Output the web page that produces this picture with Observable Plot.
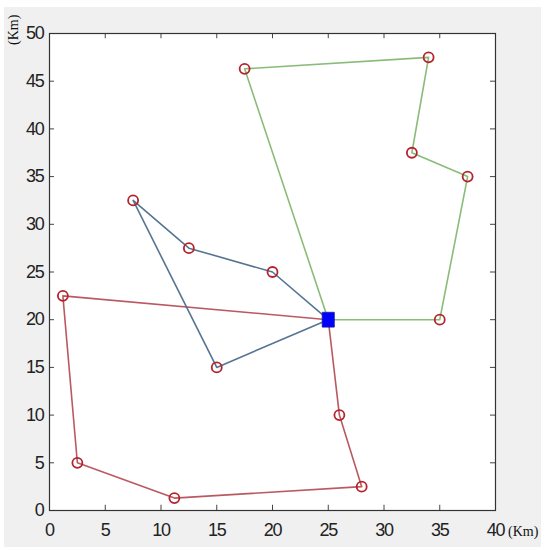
<!DOCTYPE html>
<html>
<head>
<meta charset="utf-8">
<script src="https://cdn.jsdelivr.net/npm/d3@7"></script>
<script src="https://cdn.jsdelivr.net/npm/@observablehq/plot@0.6"></script>
<style>
  html, body { margin: 0; padding: 0; background: #ffffff; }
  #wrap { position: absolute; left: 4px; top: 7px; width: 537px; height: 540px; background: #f0f0f0; }
  #wrap svg { display: block; background: transparent; }
  .unit { position: absolute; left: 0; top: 0; font-family: "Liberation Serif", "DejaVu Serif", serif; font-size: 14px; line-height: 15px; color: #111; white-space: nowrap; }
</style>
</head>
<body>
<div id="wrap"></div>
<script>
// Route coordinates (km); each route starts and ends at the depot
const depotX = [25];
const depotY = [20];
const redX = [25, 1.2, 2.5, 11.2, 28.0, 26.0, 25];
const redY = [20, 22.5, 5.0, 1.3, 2.5, 10.0, 20];
const blueX = [25, 20.0, 12.5, 7.5, 15.0, 25];
const blueY = [20, 25.0, 27.5, 32.5, 15.0, 20];
const greenX = [25, 17.5, 34.0, 32.5, 37.5, 35.0, 25];
const greenY = [20, 46.3, 47.5, 37.5, 35.0, 20.0, 20];
const xTicks = [0, 5, 10, 15, 20, 25, 30, 35, 40];
const yTicks = [0, 5, 10, 15, 20, 25, 30, 35, 40, 45, 50];

const routes = [
  {name: "red", xs: redX, ys: redY, color: "#b6505a"},
  {name: "blue", xs: blueX, ys: blueY, color: "#4d6d8c"},
  {name: "green", xs: greenX, ys: greenY, color: "#84b872"}
];
const lineData = routes.flatMap(r => r.xs.map((x, i) => ({route: r.name, color: r.color, x, y: r.ys[i]})));
const customers = routes.flatMap(r => r.xs.slice(1, -1).map((x, i) => ({x, y: r.ys[i + 1]})));
const depot = depotX.map((x, i) => ({x, y: depotY[i]}));

// tall rectangle symbol for the depot marker
const tallSquare = {
  draw(context, size) {
    const w = Math.sqrt(size) * 0.9, h = Math.sqrt(size) * 1.1;
    context.rect(-w / 2, -h / 2, w, h);
  }
};

const W = 537, H = 540;
const chart = Plot.plot({
  width: W, height: H,
  marginLeft: 45, marginRight: 46, marginTop: 26, marginBottom: 37,
  style: {fontFamily: "'Liberation Sans', Arial, sans-serif", fontSize: "18px", color: "#222", background: "transparent"},
  x: {domain: [0, 40], ticks: xTicks},
  y: {domain: [0, 50], ticks: yTicks},
  marks: [
    Plot.frame({fill: "white", stroke: null}),
    Plot.axisX({ticks: xTicks, tickSize: 0, tickPadding: 13, label: null, fontSize: 18}),
    Plot.axisY({ticks: yTicks, tickSize: 0, tickPadding: 6, label: null, fontSize: 18}),
    Plot.ruleX(xTicks.slice(1, -1), {x: d => d, y1: 0, y2: 0.55, stroke: "#444", strokeWidth: 1}),
    Plot.ruleX(xTicks.slice(1, -1), {x: d => d, y1: 50, y2: 49.45, stroke: "#444", strokeWidth: 1}),
    Plot.ruleY(yTicks.slice(1, -1), {y: d => d, x1: 0, x2: 0.45, stroke: "#444", strokeWidth: 1}),
    Plot.ruleY(yTicks.slice(1, -1), {y: d => d, x1: 40, x2: 39.55, stroke: "#444", strokeWidth: 1}),
    Plot.line(lineData, {x: "x", y: "y", z: "route", stroke: "color", strokeWidth: 1.6, strokeOpacity: 0.95}),
    Plot.dot(customers, {x: "x", y: "y", r: 5, stroke: "#b3242d", strokeWidth: 1.8, fill: "none"}),
    Plot.dot(depot, {x: "x", y: "y", symbol: tallSquare, r: 7.6, fill: "#0000ff", stroke: "#1a1aa0", strokeWidth: 0.8}),
    Plot.frame({stroke: "#333", strokeWidth: 1.2})
  ]
});
chart.querySelectorAll("g[aria-label='x-axis tick label'] text, g[aria-label='y-axis tick label'] text")
  .forEach(t => t.setAttribute("letter-spacing", "-1.2"));
const wrap = document.getElementById("wrap");
wrap.appendChild(chart);

const yUnit = document.createElement("div");
yUnit.className = "unit";
yUnit.textContent = "(Km)";
yUnit.style.transformOrigin = "0 0";
yUnit.style.transform = "translate(2px, 38px) rotate(-90deg)";
wrap.appendChild(yUnit);

const xUnit = document.createElement("div");
xUnit.className = "unit";
xUnit.textContent = "(Km)";
xUnit.style.left = "504px";
xUnit.style.top = "517px";
wrap.appendChild(xUnit);
</script>
</body>
</html>
